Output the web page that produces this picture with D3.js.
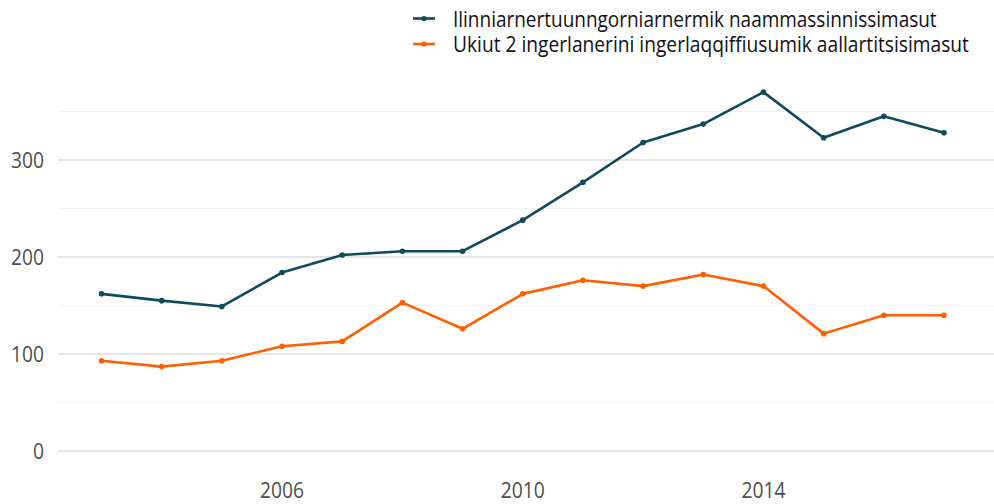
<!DOCTYPE html>
<html><head><meta charset="utf-8">
<script src="https://cdn.jsdelivr.net/npm/d3@7"></script>
<style>body{margin:0;background:#fff}svg{display:block}</style>
</head><body><svg id="c" width="994" height="504"></svg>
<script>
const years = [2003,2004,2005,2006,2007,2008,2009,2010,2011,2012,2013,2014,2015,2016,2017];
const seriesNames = ["Ilinniarnertuunngorniarnermik naammassinnissimasut","Ukiut 2 ingerlanerini ingerlaqqiffiusumik aallartitsisimasut"];
const graduates = [162,155,149,184,202,206,206,238,277,318,337,370,323,345,328];
const started = [93,87,93,108,113,153,126,162,176,170,182,170,121,140,140];
const colors = ["#0e4a5c","#ff5f00"];
const xTicks = [2006,2010,2014];
const yTicks = [0,100,200,300];
const yMinor = [50,150,250,350];

const svg = d3.select("#c");
const font = "'Open Sans', sans-serif";
const x = d3.scaleLinear().domain([2003,2017]).range([101.5,944]);
const y = d3.scaleLinear().domain([0,300]).range([451,160]);

const g = svg.append("g");
g.selectAll(".minor").data(yMinor).join("line")
  .attr("x1",58).attr("x2",994).attr("y1",d=>y(d)).attr("y2",d=>y(d))
  .attr("stroke","#f0f0f0").attr("stroke-width",1.2);
g.selectAll(".major").data(yTicks).join("line")
  .attr("x1",58).attr("x2",994).attr("y1",d=>y(d)).attr("y2",d=>y(d))
  .attr("stroke","#e6e6e6").attr("stroke-width",2);

const digitW = 11;
svg.selectAll(".yl").data(yTicks).join("text")
  .attr("x",44).attr("y",d=>y(d)+8).attr("text-anchor","end")
  .attr("font-family",font).attr("font-size",22).attr("fill","#4d4d4d")
  .attr("textLength",d=>String(d).length*digitW).attr("lengthAdjust","spacingAndGlyphs")
  .text(d=>d);
svg.selectAll(".xl").data(xTicks).join("text")
  .attr("x",d=>x(d)).attr("y",498).attr("text-anchor","middle")
  .attr("font-family",font).attr("font-size",22).attr("fill","#4d4d4d")
  .attr("textLength",d=>String(d).length*digitW).attr("lengthAdjust","spacingAndGlyphs")
  .text(d=>d);

const data = [graduates, started];
const line = d3.line().x((d,i)=>x(years[i])).y(d=>y(d));
data.forEach((s,k)=>{
  svg.append("path").datum(s).attr("d",line).attr("fill","none")
    .attr("stroke",colors[k]).attr("stroke-width",2.6).attr("stroke-linejoin","round");
  svg.selectAll(".p"+k).data(s).join("circle")
    .attr("cx",(d,i)=>x(years[i])).attr("cy",d=>y(d)).attr("r",2.8).attr("fill",colors[k]);
});

const legendLens = [484, 516];
const lg = svg.append("g");
seriesNames.forEach((n,k)=>{
  const yy = 18.5 + k*25.5;
  lg.append("line").attr("x1",413).attr("x2",435).attr("y1",yy).attr("y2",yy)
    .attr("stroke",colors[k]).attr("stroke-width",2.6);
  lg.append("circle").attr("cx",424).attr("cy",yy).attr("r",2.6).attr("fill",colors[k]);
  const t = lg.append("text").attr("x",0).attr("y",0)
    .attr("font-family",font).attr("font-size",21).attr("fill","#111").text(n);
  const w = t.node().getComputedTextLength();
  const sx = w > 0 ? legendLens[k] / w : 1;
  t.attr("transform",`translate(453,${yy+8.3}) scale(${sx},1)`);
});
</script></body></html>
